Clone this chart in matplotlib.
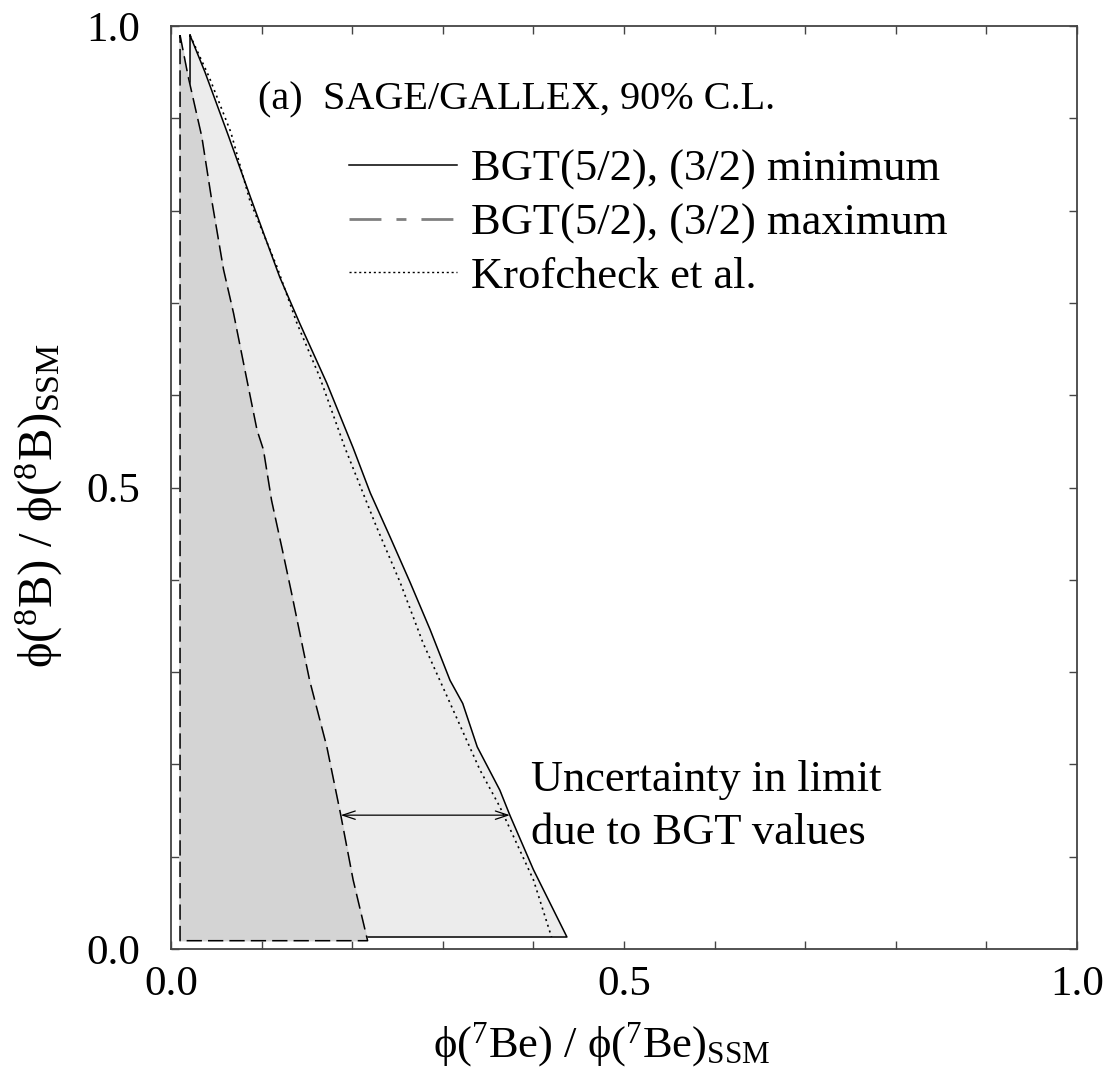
import numpy as np
import matplotlib
matplotlib.use('Agg')
import matplotlib.pyplot as plt
from matplotlib.lines import Line2D

plt.rcParams['font.family'] = ['Liberation Serif', 'DejaVu Serif']
plt.rcParams['mathtext.fontset'] = 'custom'
plt.rcParams['mathtext.rm'] = 'Liberation Serif'
plt.rcParams['mathtext.it'] = 'Liberation Serif:italic'

# BGT(5/2),(3/2) minimum -> 90% C.L. boundary (solid)
min_x = [0.021, 0.0375, 0.063, 0.089, 0.102, 0.120, 0.142, 0.172, 0.201, 0.220,
         0.242, 0.264, 0.286, 0.308, 0.322, 0.338, 0.363, 0.374, 0.400, 0.437]
min_y = [0.990, 0.950, 0.882, 0.811, 0.776, 0.728, 0.678, 0.613, 0.543, 0.494,
         0.446, 0.397, 0.346, 0.291, 0.266, 0.219, 0.172, 0.145, 0.086, 0.013]

# BGT(5/2),(3/2) maximum (dashed)
max_x = [0.010, 0.019, 0.034, 0.045, 0.058, 0.069, 0.080, 0.095, 0.102, 0.111,
         0.123, 0.133, 0.146, 0.153, 0.172, 0.187, 0.201, 0.217]
max_y = [0.990, 0.945, 0.880, 0.811, 0.736, 0.689, 0.635, 0.562, 0.541, 0.486,
         0.432, 0.386, 0.324, 0.291, 0.219, 0.147, 0.075, 0.009]

# Krofcheck et al. (dotted)
krof_x = [0.021, 0.042, 0.066, 0.087, 0.117, 0.139, 0.164, 0.192, 0.227, 0.253,
          0.278, 0.305, 0.341, 0.363, 0.400, 0.420]
krof_y = [0.990, 0.945, 0.885, 0.811, 0.739, 0.678, 0.620, 0.543, 0.457, 0.397,
          0.332, 0.273, 0.194, 0.154, 0.075, 0.013]

arrow_y = 0.145

fig = plt.figure(figsize=(11.11, 10.85), dpi=100)
ax = fig.add_axes([171/1111, 1 - 949/1085, 906/1111, 923/1085])

# closed regions: curve + bottom edge + vertical left edge
ax.fill(min_x + [min_x[0]], min_y + [min_y[-1]], color='#ececec', zorder=1)
ax.plot(min_x + [min_x[0], min_x[0]], min_y + [min_y[-1], min_y[0]],
        color='k', lw=1.1, zorder=2)

ax.fill(max_x + [max_x[0]], max_y + [max_y[-1]], color='#d4d4d4', zorder=3)
ax.plot(max_x + [max_x[0], max_x[0]], max_y + [max_y[-1], max_y[0]],
        color='k', lw=1.1, dashes=(10, 4), zorder=4)

ax.plot(krof_x, krof_y, color='k', lw=1.2, dashes=(1.2, 2.4), zorder=5)

# arrow between the two limits
i_min = min_y.index(arrow_y)
x_right = min_x[i_min]
x_left = np.interp(arrow_y, max_y[::-1], max_x[::-1])
ax.annotate('', xy=(x_left, arrow_y), xytext=(x_right, arrow_y),
            arrowprops=dict(arrowstyle='<->,head_length=0.9,head_width=0.3',
                            color='k', lw=0.9, shrinkA=0, shrinkB=0), zorder=6)

ax.text(0.096, 0.92, '(a)  SAGE/GALLEX, 90% C.L.', fontsize=29, va='center')
ax.text(0.397, 0.183, 'Uncertainty in limit', fontsize=32, va='center')
ax.text(0.397, 0.126, 'due to BGT values', fontsize=32, va='center')

handles = [Line2D([], [], color='k', lw=1.1),
           Line2D([], [], color='#808080', lw=2.0, dashes=(11.5, 5.4, 3.6, 5.4)),
           Line2D([], [], color='k', lw=1.0, dashes=(1.5, 2.0))]
labels = ['BGT(5/2), (3/2) minimum', 'BGT(5/2), (3/2) maximum', 'Krofcheck et al.']
ax.legend(handles, labels, loc='upper left', bbox_to_anchor=(0.196, 0.866),
          frameon=False, fontsize=32, handlelength=2.45, handletextpad=0.3,
          labelspacing=0.29, borderpad=0, borderaxespad=0)

ax.set_xlim(0, 1)
ax.set_ylim(0, 1)
ax.set_xticks([0.0, 0.5, 1.0])
ax.set_yticks([0.0, 0.5, 1.0])
ax.set_xticklabels(['0.0', '0.5', '1.0'])
ax.set_yticklabels(['0.0', '0.5', '1.0'])
ax.set_xticks(np.arange(0, 1.01, 0.1), minor=True)
ax.set_yticks(np.arange(0, 1.01, 0.1), minor=True)
ax.tick_params(which='both', direction='in', top=True, right=True,
               length=6, width=1.0, color='#444444', labelsize=31)
ax.tick_params(axis='x', pad=12)
ax.tick_params(axis='y', pad=22)
for s in ax.spines.values():
    s.set_color('#444444')
    s.set_linewidth(1.3)

ax.set_xlabel('ϕ($^{7}$Be) / ϕ($^{7}$Be)$_{\\mathrm{SSM}}$', fontsize=32)
ax.set_ylabel('ϕ($^{8}$B) / ϕ($^{8}$B)$_{\\mathrm{SSM}}$', fontsize=35)
ax.xaxis.set_label_coords(0.475, -0.077)
ax.yaxis.set_label_coords(-0.117, 0.481)

fig.savefig('out.png', dpi=100)
